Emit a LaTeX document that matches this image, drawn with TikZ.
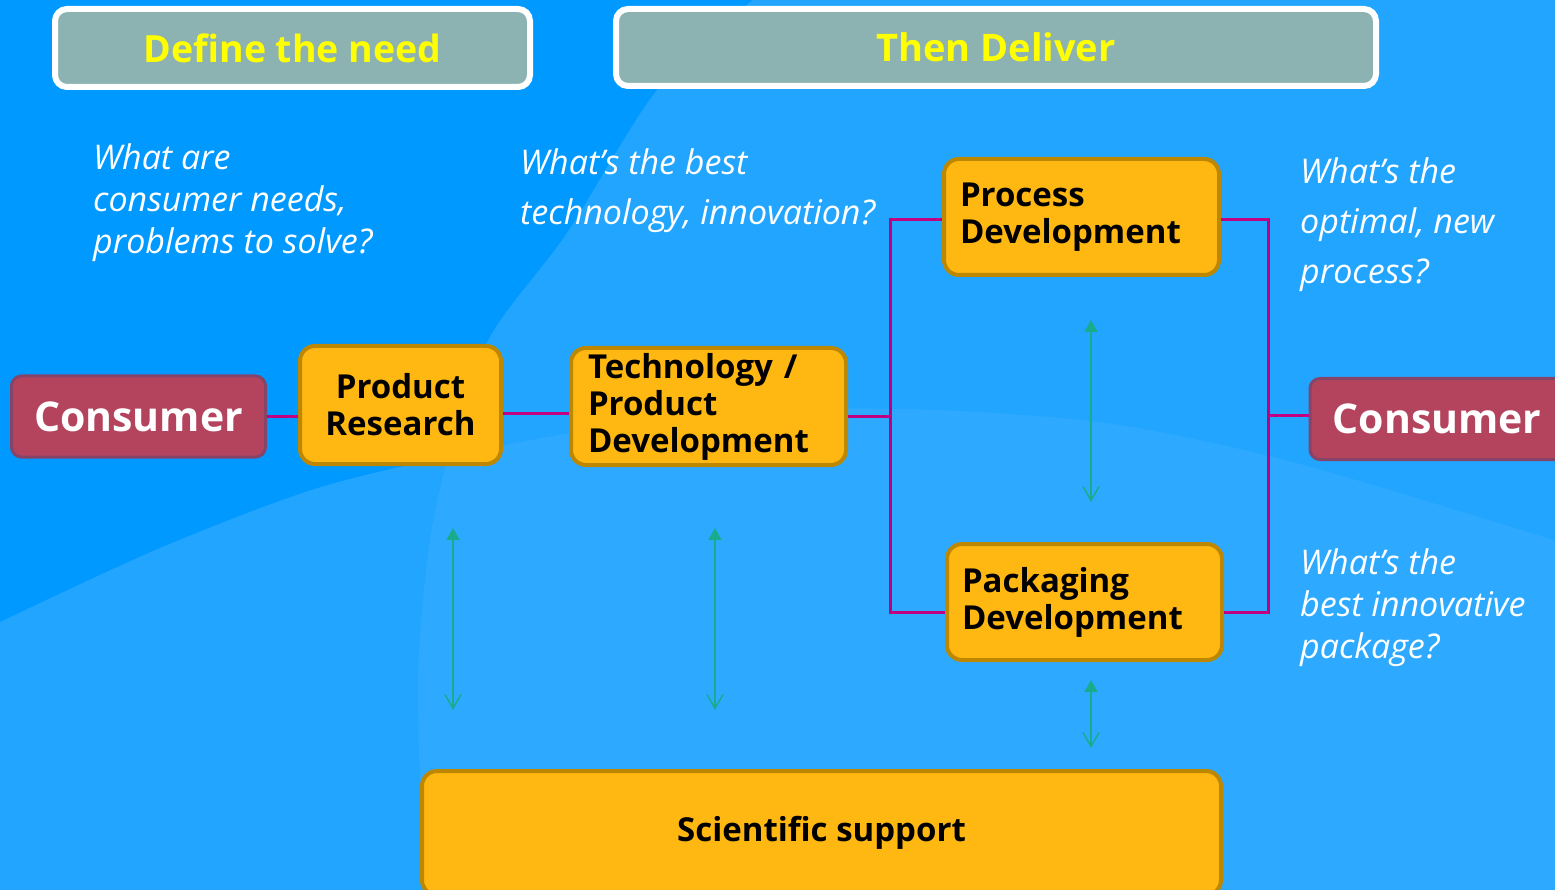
\documentclass[tikz,border=0pt]{standalone}
\usepackage{fontspec}
\setmainfont{Open Sans}
\usetikzlibrary{arrows.meta}
\definecolor{bgD}{RGB}{0,153,255}
\definecolor{bgM}{RGB}{33,165,255}
\definecolor{bgL}{RGB}{45,170,255}
\definecolor{hdrfill}{RGB}{140,179,178}
\definecolor{hdrtext}{RGB}{255,255,0}
\definecolor{ofill}{RGB}{255,183,18}
\definecolor{oedge}{RGB}{190,135,0}
\definecolor{cfill}{RGB}{180,68,94}
\definecolor{cedge}{RGB}{135,68,105}
\definecolor{magentaC}{RGB}{192,0,128}
\definecolor{greenC}{RGB}{24,172,140}
\tikzset{
  hdr/.style={draw=white, line width=6pt, fill=hdrfill, rounded corners=12pt, inner sep=0pt, text=hdrtext},
  obox/.style={draw=oedge, line width=4pt, fill=ofill, rounded corners=15pt, inner sep=0pt, text=black, font=\fontsize{33}{37}\selectfont\bfseries},
  cbox/.style={draw=cedge, line width=3pt, fill=cfill, rounded corners=10pt, inner sep=0pt, text=white, font=\fontsize{41}{45}\selectfont\bfseries, minimum width=254pt, minimum height=81pt},
  qtext/.style={text=white, align=left, anchor=north west, inner sep=0pt},
  conn/.style={draw=magentaC, line width=3pt},
  garrow/.style={draw=greenC, line width=1.5pt, {Straight Barb[width=16pt,length=14pt]}-{Triangle[width=13pt,length=12pt]}}
}
\begin{document}
\begin{tikzpicture}[x=1pt,y=-1pt]
\useasboundingbox (0,0) rectangle (1555,890);
% background
\fill[bgD] (-2,-2) rectangle (1557,892);
\def\shapeone{plot[smooth] coordinates {(755,-2) (657,90) (567,233) (490,337) (450,450) (430,540) (419,650) (419,750) (425,892)} -- (1557,892) -- (1557,-2) -- cycle}
\def\shapetwo{plot[smooth] coordinates {(-2,623) (160,548) (321,487) (480,450) (640,422) (800,409) (960,411) (1120,425) (1300,464) (1557,541)} -- (1557,892) -- (-2,892) -- cycle}
\fill[bgM] \shapeone;
\fill[bgM] \shapetwo;
\begin{scope}
  \clip \shapeone;
  \fill[bgL] \shapetwo;
\end{scope}

% headers
\node[hdr, font=\fontsize{37.5}{40}\selectfont\bfseries, minimum width=475pt, minimum height=78pt] (h1) at (292.5,48) {Define the need};
\node[hdr, font=\fontsize{38}{40}\selectfont\bfseries, minimum width=760pt, minimum height=77pt] (h2) at (996,47.5) {Then Deliver};

% question texts
\node[qtext, font=\fontsize{34}{42}\selectfont\itshape] (q1) at (93,143) {What are\\consumer needs,\\problems to solve?};
\node[qtext, font=\fontsize{34}{50}\selectfont\itshape] (q2) at (520,148) {What’s the best\\technology, innovation?};
\node[qtext, font=\fontsize{34}{50}\selectfont\itshape] (q3) at (1300,157) {What’s the\\optimal, new\\process?};
\node[qtext, font=\fontsize{34}{42}\selectfont\itshape] (q4) at (1300,548) {What’s the\\best innovative\\package?};

% boxes
\node[cbox] (cl) at (138.5,416.5) {Consumer};
\node[cbox] (cr) at (1437,419) {Consumer};
\node[obox, minimum width=201pt, minimum height=118pt, align=center] (pr) at (400.5,405) {Product\\Research};
\node[obox, minimum width=275pt, minimum height=117pt, text width=241pt, inner xsep=17pt, align=left] (tp) at (708.5,406.5) {Technology /\\Product\\Development};
\node[obox, minimum width=275pt, minimum height=116pt, text width=243pt, inner xsep=16pt, align=left] (pd) at (1081.5,217) {Process\\Development};
\node[obox, minimum width=275pt, minimum height=116pt, text width=245pt, inner xsep=15pt, align=left] (pk) at (1084.5,602) {Packaging\\Development};
\node[obox, minimum width=799pt, minimum height=124pt] (ss) at (821.5,833) {Scientific support};

% connectors
\coordinate (jl) at (890,416);
\coordinate (jr) at (1268,415);
\draw[conn] (cl.east) -- (cl.east -| pr.west);
\draw[conn] ([yshift=-8pt]pr.east) -- ([yshift=-8pt]pr.east -| tp.west);
\draw[conn] ([yshift=-9.5pt]tp.east) -- ([yshift=-9.5pt]tp.east -| jl);
\draw[conn] ([yshift=-3pt]pd.west) -- ([yshift=-3pt]pd.west -| jl) -- ([yshift=-10pt]pk.west -| jl) -- ([yshift=-10pt]pk.west);
\draw[conn] ([yshift=-3pt]pd.east) -- ([yshift=-3pt]pd.east -| jr) -- ([yshift=-10pt]pk.east -| jr) -- ([yshift=-10pt]pk.east);
\draw[conn] (jr) -- (jr -| cr.west);

% green double arrows
\coordinate (a1t) at (453,528); \coordinate (a1b) at (453,710);
\coordinate (a2t) at (715,528); \coordinate (a2b) at (715,710);
\coordinate (a3t) at (1091,320); \coordinate (a3b) at (1091,502);
\coordinate (a4t) at (1091,680); \coordinate (a4b) at (1091,748);
\draw[garrow] (a1b) -- (a1t);
\draw[garrow] (a2b) -- (a2t);
\draw[garrow] (a3b) -- (a3t);
\draw[garrow] (a4b) -- (a4t);
\end{tikzpicture}
\end{document}
